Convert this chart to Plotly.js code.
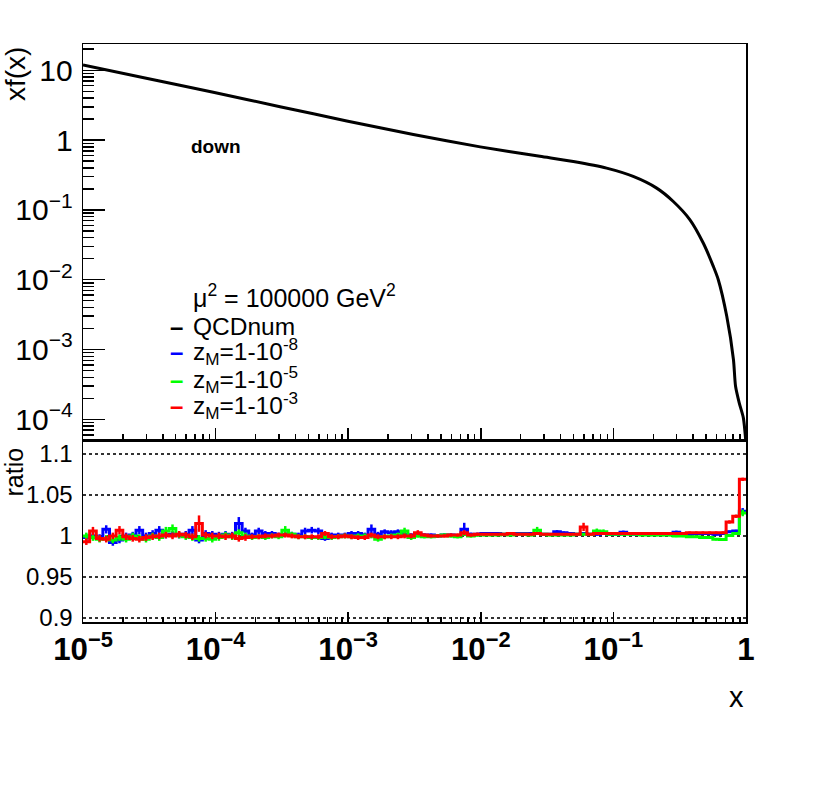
<!DOCTYPE html>
<html>
<head>
<meta charset="utf-8">
<script src="https://cdn.plot.ly/plotly-3.0.1.min.js"></script>
<style>
  html, body { margin: 0; padding: 0; background: #fff; }
  #chart { width: 830px; height: 803px; }
</style>
</head>
<body>
<div id="chart"></div>
<script>
// xf(x) of the down quark at mu^2 = 1e5 GeV^2
const pdfX = [1e-5, 3.0e-5, 9.6e-5, 3.06e-4, 9.75e-4, 3.1e-3, 9.9e-3, 0.0279, 0.0499, 0.0889,
              0.141, 0.212, 0.283, 0.378, 0.476, 0.567, 0.618, 0.716, 0.804, 0.834,
              0.889, 0.955, 1.0];
const pdfDown = [11.9, 7.66, 4.83, 3.01, 1.88, 1.198, 0.799, 0.585, 0.492, 0.396,
                 0.301, 0.205, 0.132, 0.0721, 0.0335, 0.0155, 0.0100, 0.00299, 7.2e-4, 2.97e-4,
                 1.72e-4, 1.05e-4, 4.5e-5];

// ratio panel: 100 log bins from 1e-5 to 1
const nBins = 100;
const xMinLog = -5, xMaxLog = 0;

const ratioBlue = [
  0.998,1.000,0.998,1.008,0.992,0.995,1.000,1.001,1.007,1.000,
  1.003,1.007,1.001,1.002,1.001,1.002,1.007,0.995,1.003,1.002,
  1.001,1.002,1.001,1.015,1.006,1.001,1.006,1.003,1.003,1.001,
  1.002,1.002,1.001,1.006,1.007,1.006,0.997,1.001,1.001,1.001,
  1.003,1.003,1.001,1.008,1.002,1.005,1.004,1.005,1.002,1.001,
  1.002,1.001,1.001,1.000,1.001,1.001,1.000,1.008,1.002,1.002,
  1.003,1.003,1.003,1.002,1.003,1.003,1.003,1.003,1.003,1.002,
  1.002,1.005,1.004,1.003,1.002,1.003,1.002,1.002,1.003,1.002,
  1.002,1.0045,1.003,1.002,1.002,1.002,1.002,1.002,1.003,1.0045,
  1.003,1.002,1.003,1.003,1.003,1.002,1.003,1.005,1.006,1.030];
const ratioGreen = [
  1.000,0.998,0.996,0.997,0.995,0.998,0.996,1.000,0.998,0.996,
  1.000,0.998,1.006,1.009,1.001,0.999,0.998,0.997,0.997,0.996,
  0.998,1.001,0.999,1.004,1.000,0.998,0.999,0.998,1.000,0.999,
  1.007,1.002,0.999,0.999,0.998,0.998,0.999,0.998,0.999,1.000,
  0.999,1.000,1.000,1.000,0.996,0.999,1.000,1.001,1.006,0.998,
  1.000,0.999,0.999,1.000,1.001,1.000,0.999,1.002,1.000,1.001,
  1.001,1.001,1.001,1.002,1.001,1.002,1.002,1.001,1.007,1.002,
  1.001,1.001,1.001,1.001,1.002,1.002,1.002,1.006,1.005,1.002,
  1.002,1.002,1.002,1.002,1.001,1.001,1.001,1.001,1.001,1.000,
  1.000,0.999,0.999,0.998,0.998,0.996,0.9955,1.0005,1.003,1.028];
const ratioRed = [
  0.993,1.006,0.997,0.996,1.000,1.007,0.999,0.997,0.996,0.998,
  0.999,1.000,1.001,1.000,1.002,1.001,0.999,1.015,1.001,1.000,
  1.000,0.999,1.000,0.997,0.998,0.999,0.999,1.000,1.000,1.001,
  1.001,1.000,0.999,0.999,0.999,0.999,1.003,0.999,0.999,1.000,
  0.999,0.998,0.998,1.001,0.999,0.999,0.999,0.999,1.000,1.000,
  1.004,1.001,1.000,1.000,1.000,1.001,1.001,1.004,1.001,1.002,
  1.002,1.002,1.002,1.002,1.003,1.002,1.002,1.002,1.003,1.002,
  1.002,1.002,1.002,1.002,1.002,1.011,1.002,1.003,1.003,1.003,
  1.003,1.003,1.003,1.003,1.003,1.003,1.003,1.003,1.003,1.003,
  1.003,1.004,1.004,1.004,1.004,1.004,1.004,1.017,1.024,1.069];

const errBlue = [
  0.004,0.004,0.004,0.005,0.004,0.004,0.004,0.004,0.005,0.004,
  0.004,0.005,0.004,0.004,0.004,0.004,0.005,0.004,0.004,0.004,
  0.004,0.004,0.004,0.008,0.004,0.003,0.004,0.003,0.003,0.003,
  0.003,0.003,0.003,0.004,0.004,0.004,0.003,0.003,0.003,0.003,
  0.003,0.003,0.003,0.006,0.003,0.003,0.003,0.003,0.003,0.002,
  0.002,0.002,0.002,0.002,0.002,0.002,0.002,0.008,0.002,0.002,
  0.0015,0.0015,0.0015,0.0015,0.0015,0.0015,0.0015,0.0015,0.0015,0.0015,
  0.0015,0.002,0.0015,0.0015,0.0015,0.0015,0.0015,0.0015,0.0015,0.0015,
  0.0015,0.002,0.0015,0.0015,0.0015,0.0015,0.0015,0.0015,0.0015,0.002,
  0.0015,0.0015,0.0015,0.0015,0.0015,0.0015,0.0015,0.0015,0.0015,0.004];
const errGreen = [
  0.004,0.004,0.004,0.004,0.004,0.004,0.004,0.004,0.004,0.004,
  0.004,0.004,0.005,0.005,0.004,0.004,0.004,0.004,0.004,0.004,
  0.004,0.004,0.004,0.004,0.004,0.003,0.003,0.003,0.003,0.003,
  0.005,0.003,0.003,0.003,0.003,0.003,0.003,0.003,0.003,0.003,
  0.003,0.003,0.003,0.003,0.003,0.003,0.003,0.003,0.004,0.003,
  0.002,0.002,0.002,0.002,0.002,0.002,0.002,0.002,0.002,0.002,
  0.0015,0.0015,0.0015,0.0015,0.0015,0.0015,0.0015,0.0015,0.004,0.0015,
  0.0015,0.0015,0.0015,0.0015,0.0015,0.0015,0.0015,0.003,0.003,0.0015,
  0.0015,0.0015,0.0015,0.0015,0.0015,0.0015,0.0015,0.0015,0.0015,0.0015,
  0.0015,0.0015,0.0015,0.0015,0.0015,0.0015,0.0015,0.0015,0.0015,0.004];
const errRed = [
  0.004,0.005,0.004,0.004,0.004,0.005,0.004,0.004,0.004,0.004,
  0.004,0.004,0.004,0.004,0.004,0.004,0.004,0.010,0.004,0.004,
  0.004,0.004,0.004,0.004,0.004,0.003,0.003,0.003,0.003,0.003,
  0.003,0.003,0.003,0.003,0.003,0.003,0.003,0.003,0.003,0.003,
  0.003,0.003,0.003,0.003,0.003,0.003,0.003,0.003,0.003,0.003,
  0.003,0.002,0.002,0.002,0.002,0.002,0.002,0.003,0.002,0.002,
  0.0015,0.0015,0.0015,0.0015,0.0015,0.0015,0.0015,0.0015,0.0015,0.0015,
  0.0015,0.0015,0.0015,0.0015,0.0015,0.005,0.0015,0.0015,0.0015,0.0015,
  0.0015,0.0015,0.0015,0.0015,0.0015,0.0015,0.0015,0.0015,0.0015,0.0015,
  0.0015,0.0015,0.0015,0.0015,0.0015,0.0015,0.0015,0.002,0.002,0.002];

const legendLabels = ['QCDnum', 'z<sub>M</sub>=1-10<sup>-8</sup>',
                      'z<sub>M</sub>=1-10<sup>-5</sup>', 'z<sub>M</sub>=1-10<sup>-3</sup>'];
const legendColors = ['#000000', '#0000ff', '#00ff00', '#ff0000'];
const scaleLabel = '\u03bc<sup>2</sup> = 100000 GeV<sup>2</sup>';
const partonLabel = 'down';

const FONT = 'Liberation Sans, Arial, Helvetica, sans-serif';

// bin edges / centres (log spaced)
const step = (xMaxLog - xMinLog) / nBins;
const edges = [], centres = [];
for (let k = 0; k <= nBins; k++) edges.push(Math.pow(10, xMinLog + k * step));
for (let k = 0; k < nBins; k++) centres.push(Math.pow(10, xMinLog + (k + 0.5) * step));

const histTraces = (vals, errs, color) => [
  { x: edges, y: vals.concat([vals[vals.length - 1]]), xaxis: 'x2', yaxis: 'y2',
    type: 'scatter', mode: 'lines', line: { shape: 'hv', color: color, width: 3 },
    hoverinfo: 'skip' },
  { x: centres, y: vals, xaxis: 'x2', yaxis: 'y2', type: 'scatter', mode: 'markers',
    marker: { size: 1, color: color },
    error_y: { type: 'data', array: errs, visible: true, color: color, thickness: 2.5, width: 0 },
    hoverinfo: 'skip' }
];

const data = [
  { x: pdfX, y: pdfDown, xaxis: 'x', yaxis: 'y', type: 'scatter', mode: 'lines',
    line: { color: '#000', width: 3, shape: 'spline', smoothing: 0.7 }, name: 'QCDnum' },
  ...histTraces(ratioBlue, errBlue, legendColors[1]),
  ...histTraces(ratioGreen, errGreen, legendColors[2]),
  ...histTraces(ratioRed, errRed, legendColors[3])
];

const frame = { showline: true, linecolor: '#000', linewidth: 1.5, mirror: true,
                showgrid: false, zeroline: false };

// plot area in px: x 83..746, y 44..622 ; split at 440
const splitY = (622 - 440) / 578;

// legend built from annotations (ROOT-like tight rows)
const legendRowsY = [326, 352, 379, 405];
const pxX = px => (px - 83) / 663;
const pxY = py => (622 - py) / 578;

const annotations = [
  { text: 'xf(x)', x: pxX(15), y: pxY(45), xanchor: 'center', yanchor: 'top', textangle: -90,
    font: { size: 28 } },
  { text: 'ratio', x: pxX(13), y: pxY(446), xanchor: 'center', yanchor: 'top', textangle: -90,
    font: { size: 25 } },
  { text: 'x', x: pxX(746), y: pxY(697), xanchor: 'right', yanchor: 'middle', font: { size: 29 } },
  { text: partonLabel, x: pxX(216), y: pxY(146), xanchor: 'center', yanchor: 'middle',
    font: { size: 19, weight: 'bold' } },
  { text: scaleLabel, x: pxX(191), y: pxY(296), xanchor: 'left', yanchor: 'middle',
    font: { size: 25 } }
];
legendLabels.forEach((lab, i) => {
  annotations.push({ text: '\u2013', x: pxX(176), y: pxY(legendRowsY[i]), xanchor: 'center',
    yanchor: 'middle', font: { size: 24, color: legendColors[i], weight: 'bold' } });
  annotations.push({ text: lab, x: pxX(191), y: pxY(legendRowsY[i]), xanchor: 'left',
    yanchor: 'middle', font: { size: 24.5 } });
});
annotations.forEach(a => { a.xref = 'paper'; a.yref = 'paper'; a.showarrow = false; });

const layout = {
  width: 830, height: 803,
  margin: { l: 83, r: 84, t: 44, b: 181 },
  paper_bgcolor: '#fff', plot_bgcolor: '#fff',
  font: { family: FONT, color: '#000' },
  showlegend: false,
  xaxis: Object.assign({}, frame, {
    type: 'log', range: [xMinLog, xMaxLog], anchor: 'y', dtick: 1,
    showticklabels: false, ticks: 'inside', ticklen: 12, tickwidth: 1.5, tickcolor: '#000',
    minor: { ticks: 'inside', ticklen: 6, dtick: 'D1', tickwidth: 1.5, tickcolor: '#000' }
  }),
  yaxis: Object.assign({}, frame, {
    type: 'log', domain: [splitY, 1], range: [-4.296, 1.376], anchor: 'x', dtick: 1,
    exponentformat: 'power', ticks: 'inside', ticklen: 22, tickwidth: 1.5, tickcolor: '#000',
    ticklabelstandoff: 4, tickfont: { size: 24 },
    minor: { ticks: 'inside', ticklen: 11, dtick: 'D1', tickwidth: 1.5, tickcolor: '#000' }
  }),
  xaxis2: Object.assign({}, frame, {
    type: 'log', range: [xMinLog, xMaxLog], anchor: 'y2', dtick: 1,
    exponentformat: 'power', ticks: 'inside', ticklen: 10, tickwidth: 1.5, tickcolor: '#000',
    ticklabelstandoff: 0, tickfont: { size: 25, weight: 'bold' },
    minor: { ticks: 'inside', ticklen: 5, dtick: 'D1', tickwidth: 1.5, tickcolor: '#000' }
  }),
  yaxis2: Object.assign({}, frame, {
    domain: [0, splitY], range: [0.895, 1.117], anchor: 'x2',
    tickvals: [0.9, 0.95, 1, 1.05, 1.1], ticktext: ['0.9', '0.95', '1', '1.05', '1.1'],
    ticks: '', ticklabelstandoff: 4, tickfont: { size: 24 },
    showgrid: true, griddash: 'dot', gridcolor: '#333', gridwidth: 1.5
  }),
  annotations: annotations
};

Plotly.newPlot('chart', data, layout, { displayModeBar: false, staticPlot: true });
</script>
</body>
</html>
